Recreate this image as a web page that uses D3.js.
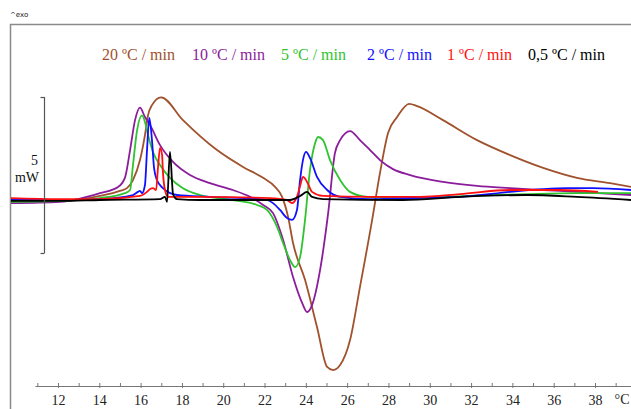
<!DOCTYPE html>
<html>
<head>
<meta charset="utf-8">
<script src="https://cdn.jsdelivr.net/npm/d3@7"></script>
<style>
  html, body { margin: 0; padding: 0; background: #fff; }
  svg { display: block; }
</style>
</head>
<body>
<svg id="chart" width="631" height="409"></svg>
<script>
// ---------- data (temperature °C, heat flow mW) ----------
const rateLabels = ["20 ºC / min", "10 ºC / min", "5 ºC / min", "2 ºC / min", "1 ºC / min", "0,5 ºC / min"];
const rateColors = ["#a0522d", "#8b1c9b", "#2ec42e", "#1010ff", "#ff1010", "#000000"];

const curve20 = [[9.72,-0.06],[12.10,-0.03],[14.03,0.13],[15.00,0.29],[15.34,0.38],[15.63,0.64],[15.97,1.28],[16.21,2.08],[16.36,2.72],[16.55,3.04],[16.99,3.29],[18.05,2.56],[19.70,1.60],[20.96,1.06],[21.93,0.71],[22.51,0.42],[22.85,0.10],[23.14,-0.54],[23.38,-1.38],[23.96,-2.56],[24.54,-4.07],[25.03,-5.35],[25.32,-5.45],[25.66,-5.29],[26.14,-4.49],[26.62,-2.79],[27.21,-0.64],[27.59,0.87],[27.98,2.15],[28.42,2.66],[29.00,3.08],[29.39,3.01],[30.64,2.56],[32.29,1.92],[33.89,1.44],[35.49,1.03],[37.13,0.71],[38.73,0.54],[39.75,0.42]];
const curve10 = [[9.72,-0.10],[12.10,-0.06],[14.03,0.22],[14.91,0.42],[15.24,0.71],[15.49,1.60],[15.73,2.56],[15.97,2.96],[16.21,2.66],[16.46,2.40],[16.94,1.76],[17.57,1.22],[18.39,0.80],[19.36,0.54],[20.47,0.32],[21.30,0.10],[21.93,-0.16],[22.41,-0.42],[22.90,-1.28],[23.38,-2.47],[23.82,-3.30],[24.06,-3.59],[24.30,-3.37],[24.69,-2.24],[25.08,-0.42],[25.41,1.51],[25.66,1.92],[26.14,2.21],[26.62,1.92],[27.11,1.60],[27.59,1.28],[28.22,0.99],[29.05,0.80],[30.64,0.58],[32.29,0.45],[33.89,0.38],[35.49,0.32],[37.13,0.26],[39.75,0.16]];
const curve5 = [[9.72,-0.06],[12.10,-0.03],[14.03,0.06],[15.24,0.22],[15.49,0.32],[15.63,1.12],[15.83,2.24],[16.07,2.71],[16.21,2.50],[16.36,2.08],[16.60,1.54],[16.94,1.12],[17.42,0.71],[18.05,0.38],[18.88,0.16],[20.47,0.00],[21.64,-0.16],[22.12,-0.32],[22.61,-0.87],[22.90,-1.38],[23.23,-1.92],[23.48,-2.15],[23.72,-1.83],[23.96,-0.64],[24.20,0.96],[24.45,1.83],[24.59,2.02],[24.83,1.92],[25.17,1.28],[25.66,0.64],[26.14,0.26],[26.96,0.10],[28.56,0.06],[33.07,0.16],[34.71,0.19],[37.13,0.22],[39.75,0.22]];
const curve2 = [[9.72,0.00],[12.10,0.00],[14.03,0.03],[15.63,0.16],[15.87,0.26],[15.97,0.29],[16.07,0.22],[16.21,0.48],[16.31,1.60],[16.42,2.63],[16.55,1.92],[16.65,1.03],[16.79,0.64],[17.08,0.38],[17.76,0.16],[19.36,0.10],[21.78,0.03],[22.12,0.00],[22.41,-0.10],[22.75,-0.32],[23.09,-0.58],[23.33,-0.64],[23.57,-0.32],[23.72,0.64],[23.86,1.28],[24.01,1.54],[24.20,1.35],[24.54,0.74],[25.03,0.32],[25.66,0.10],[27.11,0.03],[28.71,0.06],[31.47,0.10],[33.89,0.26],[35.49,0.35],[36.65,0.38],[37.91,0.38],[39.75,0.32]];
const curve1 = [[9.72,0.06],[12.10,0.03],[14.03,0.03],[15.97,0.13],[16.31,0.26],[16.46,0.35],[16.60,0.38],[16.75,0.32],[16.84,1.03],[16.94,1.67],[17.04,1.44],[17.08,0.90],[17.18,0.32],[17.33,0.10],[18.88,0.10],[22.27,0.06],[23.09,0.00],[23.33,-0.10],[23.57,0.10],[23.72,0.45],[23.86,0.74],[24.06,0.58],[24.30,0.26],[24.83,0.13],[27.11,0.10],[29.53,0.10],[31.47,0.19],[33.89,0.32],[36.31,0.32],[38.15,0.26]];
const curve05 = [[9.72,-0.03],[12.10,-0.03],[14.03,0.00],[16.94,0.03],[17.18,0.10],[17.28,-0.06],[17.42,1.54],[17.57,0.19],[17.76,0.03],[18.88,0.00],[23.23,0.00],[23.72,0.13],[24.06,0.26],[24.30,0.10],[24.83,0.03],[28.71,0.00],[31.47,0.10],[34.71,0.16],[37.13,0.10],[39.75,0.00]];
const seriesValues = [curve20, curve10, curve5, curve2, curve1, curve05];

const majorTicks = [12,14,16,18,20,22,24,26,28,30,32,34,36,38];
const minorTicks = [11,13,15,17,19,21,23,25,27,29,31,33,35,37,39];
const scaleBarValues = [3.3, -1.7];   // the 5 mW bar
const scaleBarLabels = ["5", "mW"];
const unitLabel = "°C";
const exoLabel = "^exo";

// ---------- layout ----------
const W = 631, H = 409;
const svg = d3.select("#chart");
const serif = "'Liberation Serif', 'Times New Roman', serif";

const x = d3.scaleLinear().domain([12, 38]).range([58, 595]);
const y = d3.scaleLinear().domain([0, 5]).range([200, 44]);

// frame
svg.append("path")
  .attr("d", `M10.5,${H} L10.5,24.5 L${W},24.5`)
  .attr("fill", "none").attr("stroke", "#8a8a8a").attr("stroke-width", 1.5);

svg.append("text").attr("x", 10).attr("y", 17)
  .attr("font-family", "'DejaVu Sans', sans-serif").attr("font-size", 7)
  .attr("fill", "#222").text(exoLabel);

// legend
const legendX = [102, 192, 281, 367, 447, 528];
svg.append("g").selectAll("text").data(rateLabels).join("text")
  .attr("x", (d, i) => legendX[i]).attr("y", 60)
  .attr("font-family", serif).attr("font-size", 16)
  .attr("fill", (d, i) => rateColors[i]).text(d => d);

// curves
const clip = svg.append("clipPath").attr("id", "plotclip")
  .append("rect").attr("x", 11).attr("y", 25).attr("width", W - 11).attr("height", 360);

const line = d3.line().x(d => x(d[0])).y(d => y(d[1])).curve(d3.curveMonotoneX);
svg.append("g").attr("clip-path", "url(#plotclip)")
  .selectAll("path").data(seriesValues).join("path")
  .attr("d", line)
  .attr("fill", "none")
  .attr("stroke", (d, i) => rateColors[i])
  .attr("stroke-width", 1.8)
  .attr("stroke-linejoin", "round");

// scale bar
const sb = svg.append("g");
const sbx = 44.5;
sb.append("line").attr("x1", sbx).attr("x2", sbx)
  .attr("y1", y(scaleBarValues[0])).attr("y2", y(scaleBarValues[1]))
  .attr("stroke", "#555").attr("stroke-width", 1.2);
scaleBarValues.forEach(v => {
  sb.append("line").attr("x1", sbx - 4).attr("x2", sbx)
    .attr("y1", Math.round(y(v)) + 0.5).attr("y2", Math.round(y(v)) + 0.5)
    .attr("stroke", "#555").attr("stroke-width", 1.2);
});
sb.append("text").attr("x", 38).attr("y", 165).attr("text-anchor", "end")
  .attr("font-family", serif).attr("font-size", 14).attr("fill", "#111").text(scaleBarLabels[0]);
sb.append("text").attr("x", 39).attr("y", 182).attr("text-anchor", "end")
  .attr("font-family", serif).attr("font-size", 14).attr("fill", "#111").text(scaleBarLabels[1]);

// x axis
const axisY = 386;
const xa = x.copy().domain([x.invert(35), x.invert(W)]).range([35, W]);
const axisMajor = d3.axisBottom(xa).tickValues(majorTicks).tickSize(3).tickSizeOuter(0).tickPadding(6);
const gMaj = svg.append("g").attr("transform", `translate(0,${axisY})`).call(axisMajor);
gMaj.select(".domain").attr("stroke", "#777").attr("stroke-width", 1.2);
gMaj.selectAll(".tick line").attr("stroke", "#777").attr("y1", -3).attr("y2", 2);
gMaj.selectAll(".tick text").attr("font-family", serif).attr("font-size", 14).attr("fill", "#222")
  .attr("dy", "0.71em");

const axisMinor = d3.axisBottom(xa).tickValues(minorTicks).tickSize(0).tickFormat("");
const gMin = svg.append("g").attr("transform", `translate(0,${axisY})`).call(axisMinor);
gMin.select(".domain").remove();
gMin.selectAll(".tick line").attr("stroke", "#777").attr("y1", -3).attr("y2", 0);

svg.append("text").attr("x", 622).attr("y", 404).attr("text-anchor", "middle")
  .attr("font-family", serif).attr("font-size", 14).attr("fill", "#222").text(unitLabel);
</script>
</body>
</html>
